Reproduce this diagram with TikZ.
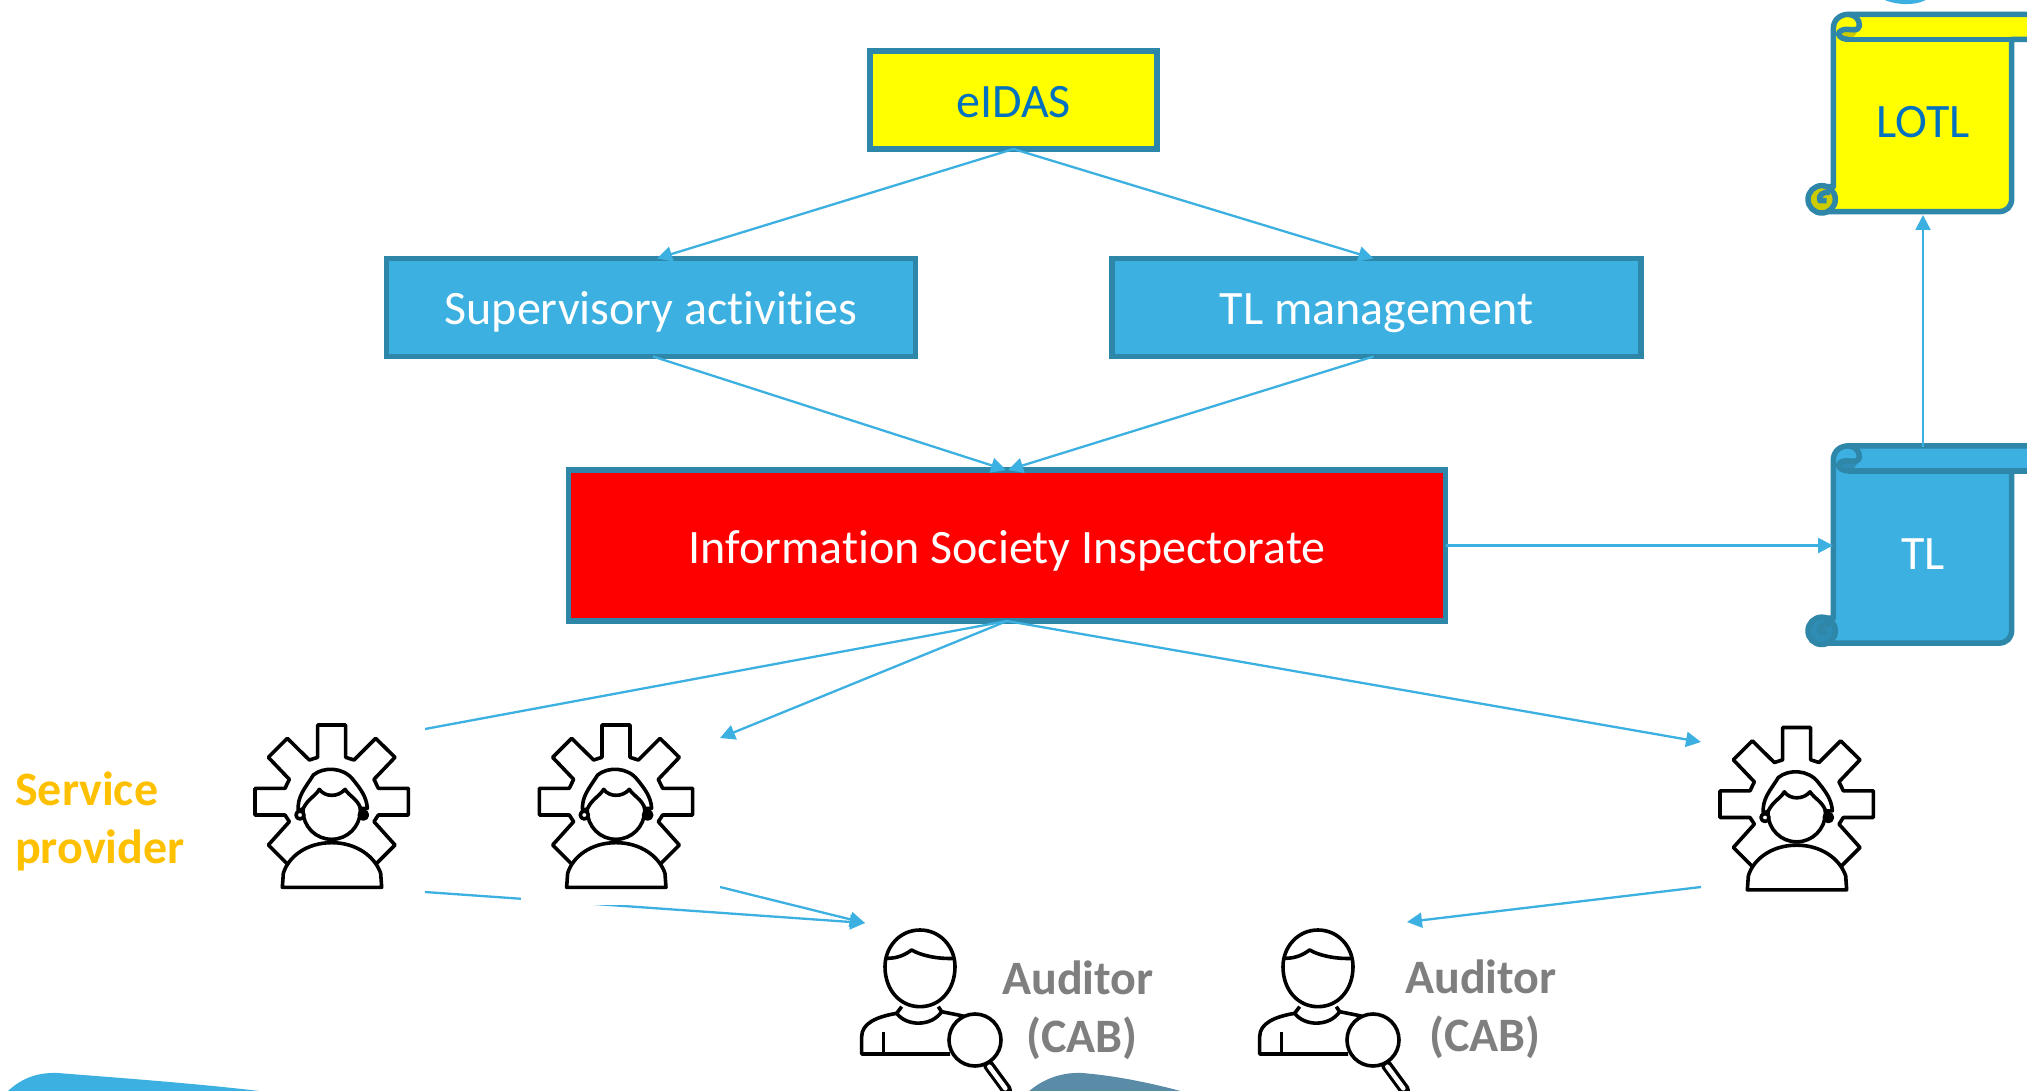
\documentclass[tikz,border=0pt]{standalone}
\usepackage{fontspec}
\setmainfont{Carlito}[Ligatures=CommonOff]
\usetikzlibrary{arrows.meta}
\definecolor{boxblue}{HTML}{3CB0E0}
\definecolor{boxedge}{HTML}{2E86A8}
\definecolor{arrowblue}{HTML}{3CB0E0}
\definecolor{textblue}{HTML}{0070C0}
\definecolor{servicegold}{HTML}{FFC000}
\definecolor{auditgray}{HTML}{7F7F7F}
\definecolor{pureyellow}{HTML}{FFFF00}
\definecolor{purered}{HTML}{FF0000}
\definecolor{darkyellow}{HTML}{CCCC00}
\definecolor{darkblue}{HTML}{2F8DB5}
\definecolor{steel}{HTML}{5A8CA8}
\tikzset{
  basebox/.style={draw=boxedge,line width=5.5pt,inner sep=0pt,outer sep=0pt,text height=36pt,text depth=1pt,font=\fontsize{48}{52}\selectfont},
  yellowbox/.style={basebox,fill=pureyellow,text=textblue,minimum width=287pt,minimum height=98pt},
  bluebox/.style={basebox,fill=boxblue,text=white,minimum width=529pt,minimum height=98pt},
  redbox/.style={basebox,fill=purered,text=white,minimum width=877pt,minimum height=151pt},
  flow/.style={draw=arrowblue,line width=2.3pt},
  arrowed/.style={flow,-{Triangle[length=15pt,width=15pt]}},
  iconbg/.style={fill=white,inner sep=0pt,outer sep=0pt,minimum width=199pt,minimum height=190pt},
  iconline/.style={draw=black,line width=3.6pt,line join=round},
  scrolltext/.style={inner sep=0pt,font=\fontsize{48}{52}\selectfont},
  sidelabel/.style={inner sep=0pt,font=\bfseries\fontsize{48}{58}\selectfont}
}
\newcommand{\scrollshape}[3]{%
  \begin{scope}[shift={(1780,#1)},scale=1/3,line width=5.5pt,line join=round]
    \path[fill=#2,draw=boxedge] (160,85) .. controls (160,60) and (180,43) .. (205,43) -- (770,43) -- (770,118) -- (695,118) -- (695,595) .. controls (695,620) and (680,635) .. (655,635) -- (130,635) -- (130,560) -- (160,560) -- cycle;
    \path[fill=#3] (178,100) .. controls (185,88) and (200,85) .. (235,85) .. controls (230,105) and (220,115) .. (205,116) .. controls (190,116) and (180,110) .. (178,100) -- cycle;
    \path[draw=boxedge] (205,118) -- (770,118);
    \path[draw=boxedge] (205,43) .. controls (225,43) and (240,60) .. (238,78) .. controls (236,95) and (215,88) .. (200,88) .. controls (185,88) and (176,95) .. (176,102) .. controls (178,112) and (190,118) .. (205,118);
    \path[fill=#3,draw=boxedge] (125,598) circle[radius=41];
    \path[draw=boxedge] (150,578) .. controls (130,572) and (112,588) .. (120,602) -- (140,602);
  \end{scope}}
\newcommand{\gearicon}[2]{%
  \begin{scope}[shift={(#1,#2)},scale=1/3]
    \path[iconline,fill=white] (263,75) -- (347,75) -- (347,172) -- (372,180) -- (437,115) -- (495,172) -- (432,238) -- (445,265) -- (535,265) -- (535,345) -- (445,345) -- (432,365) -- (495,435) -- (440,490) -- (170,490) -- (115,435) -- (178,365) -- (165,345) -- (75,345) -- (75,265) -- (165,265) -- (178,238) -- (115,172) -- (172,115) -- (238,180) -- (263,172) -- cycle;
    \path[iconline,fill=white] (157,562) -- (160,520) .. controls (175,470) and (230,428) .. (305,428) .. controls (380,428) and (435,470) .. (452,520) -- (455,562) -- cycle;
    \path[iconline,fill=white] (305,332) circle[radius=86];
    \path[iconline,fill=white] (205,335) .. controls (200,290) and (225,265) .. (250,225) .. controls (280,200) and (340,200) .. (370,240) .. controls (390,265) and (410,290) .. (412,325) -- (392,325) .. controls (380,295) and (360,290) .. (345,268) .. controls (325,292) and (285,292) .. (268,268) .. controls (255,290) and (235,295) .. (220,325) -- cycle;
    \path[iconline,fill=white] (210,345) circle[radius=12];
    \path[iconline,fill=black] (400,345) circle[radius=12];
  \end{scope}}
\newcommand{\auditoricon}[1]{%
  \begin{scope}[shift={(#1,900)},scale=1/3]
    \path[draw=black,line width=11pt,line cap=round] (505,495) -- (560,570);
    \path[draw=white,line width=4.5pt,line cap=round] (508,500) -- (556,565);
    \path[iconline] (300,90) .. controls (360,90) and (405,140) .. (405,200) .. controls (405,270) and (360,320) .. (300,320) .. controls (240,320) and (195,270) .. (195,200) .. controls (195,140) and (240,90) .. (300,90) -- cycle;
    \path[iconline] (200,175) .. controls (240,175) and (260,160) .. (275,150) .. controls (300,165) and (350,178) .. (405,175);
    \path[iconline] (245,320) -- (230,340) .. controls (260,380) and (335,380) .. (365,335) -- (355,320);
    \path[iconline] (390,462) -- (125,462) -- (125,410) .. controls (125,370) and (170,350) .. (230,340);
    \path[iconline] (365,335) -- (430,348);
    \path[iconline] (190,395) -- (190,462);
    \path[iconline,fill=white] (465,420) circle[radius=78];
  \end{scope}}
\begin{document}
\begin{tikzpicture}[x=1pt,y=-1pt]
  \clip (0,0) rectangle (2027,1091);
  \fill[white] (0,0) rectangle (2027,1091);
  % background shapes cut by the frame
  \fill[boxblue] (4,1095) .. controls (18,1080) and (35,1072) .. (58,1073) .. controls (120,1078) and (220,1085) .. (290,1095) -- cycle;
  \fill[steel] (1025,1095) .. controls (1040,1080) and (1060,1072) .. (1082,1073) .. controls (1120,1076) and (1160,1085) .. (1195,1095) -- cycle;
  \fill[boxblue] (1881,-2) .. controls (1890,4) and (1915,8) .. (1929,-2) -- cycle;
  % scrolls
  \scrollshape{0}{pureyellow}{darkyellow}
  \scrollshape{431.5}{boxblue}{darkblue}
  \node[scrolltext,text=textblue] (lotl) at (1923,122) {LOTL};
  \node[scrolltext,text=white] (tl) at (1923,554) {TL};
  \coordinate (lotlin) at (1923,215);
  \coordinate (tlout) at (1923,447);
  \coordinate (tlin) at (1833,545.5);
  % boxes
  \node[yellowbox] (eidas) at (1013.5,100) {eIDAS};
  \node[bluebox] (sup) at (651,307.5) {Supervisory activities};
  \node[bluebox] (tlm) at (1376.5,307.5) {TL management};
  \node[redbox] (isi) at (1007,545.5) {Information Society Inspectorate};
  % free ends of the connectors
  \coordinate (g1top) at (425,729);
  \coordinate (g2top) at (720,738);
  \coordinate (g3top) at (1701,742);
  \coordinate (g1low) at (425,892);
  \coordinate (g2low) at (720,887);
  \coordinate (g3low) at (1701,887);
  \coordinate (aud1) at (865,923);
  \coordinate (aud2) at (1407,922);
  % connectors
  \draw[arrowed] (eidas.south) -- ([xshift=6pt]sup.north);
  \draw[arrowed] (eidas.south) -- ([xshift=-3pt]tlm.north);
  \draw[arrowed] ([xshift=2pt]sup.south) -- ([xshift=-1pt]isi.north);
  \draw[arrowed] ([xshift=-3pt]tlm.south) -- ([xshift=1pt]isi.north);
  \draw[arrowed] (isi.east) -- (tlin);
  \draw[arrowed] (tlout) -- (lotlin);
  \draw[flow] (isi.south) -- (g1top);
  \draw[arrowed] (isi.south) -- (g2top);
  \draw[arrowed] (isi.south) -- (g3top);
  \draw[arrowed] (g1low) -- (aud1);
  \draw[arrowed] (g2low) -- (aud1);
  \draw[arrowed] (g3low) -- (aud2);
  % icon pictures
  \node[iconbg] (gear1) at (325.5,809.5) {};
  \node[iconbg] (gear2) at (620.5,809.5) {};
  \node[iconbg] (gear3) at (1801.5,811.5) {};
  \gearicon{230}{700}
  \gearicon{514.3}{700}
  \gearicon{1695}{702.5}
  \auditoricon{820}
  \auditoricon{1218}
  % labels
  \node[sidelabel,text=servicegold,align=left,anchor=west] (sp) at (15,821) {Service\\provider};
  \node[sidelabel,text=auditgray,align=center] (a1) at (1078,1010) {Auditor\\\,(CAB)};
  \node[sidelabel,text=auditgray,align=center] (a2) at (1481,1009) {Auditor\\\,(CAB)};
\end{tikzpicture}
\end{document}
